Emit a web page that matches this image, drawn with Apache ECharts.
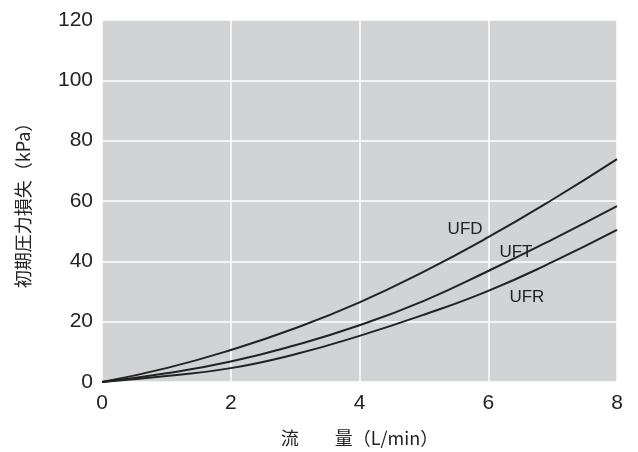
<!DOCTYPE html>
<html>
<head>
<meta charset="utf-8">
<script src="https://cdn.jsdelivr.net/npm/echarts@6/dist/echarts.min.js"></script>
<style>html,body{margin:0;padding:0;background:#fff}#c{width:638px;height:452px}</style>
</head>
<body>
<div id="c"></div>
<script>
const flow = [0, 1, 2, 3, 4, 5, 6, 7, 8];
const ufd = [0, 4.6, 10.6, 17.8, 26.4, 36.6, 48.0, 60.5, 73.9];
const uft = [0, 2.9, 6.8, 12.2, 18.8, 26.9, 36.8, 47.3, 58.3];
const ufr = [0, 2.0, 4.6, 9.2, 15.3, 22.3, 30.2, 39.8, 50.4];
const seriesNames = ['UFD', 'UFT', 'UFR'];
const labelPos = [[5.64, 50.7], [6.43, 43.1], [6.6, 28.2]];

const font = '"Liberation Sans", Arial, sans-serif';
const cjk = '"Noto Sans CJK JP", "Liberation Sans", sans-serif';
const allData = [ufd, uft, ufr];

const chart = echarts.init(document.getElementById('c'));
chart.setOption({
  animation: false,
  grid: {left: 102, right: 21, top: 20, bottom: 70, show: true, backgroundColor: '#d2d3d5', borderWidth: 0},
  xAxis: {
    type: 'value', min: 0, max: 8, interval: 2,
    axisLine: {show: false}, axisTick: {show: false},
    axisLabel: {fontFamily: font, fontSize: 21, color: '#222', margin: 11},
    splitLine: {show: true, lineStyle: {color: '#ffffff', width: 1.5}},
    name: '流　　量（L/min）', nameLocation: 'middle', nameGap: 47,
    nameTextStyle: {fontFamily: cjk, fontSize: 18, color: '#222'}
  },
  yAxis: {
    type: 'value', min: 0, max: 120, interval: 20,
    axisLine: {show: false}, axisTick: {show: false},
    axisLabel: {fontFamily: font, fontSize: 21, color: '#222', margin: 9},
    splitLine: {show: true, lineStyle: {color: '#ffffff', width: 1.5}},
    name: '初期圧力損失（kPa）', nameLocation: 'middle', nameGap: 70,
    nameTextStyle: {fontFamily: cjk, fontSize: 18, color: '#222'}
  },
  series: allData.map((d, i) => ({
    name: seriesNames[i],
    type: 'line',
    smooth: true,
    symbol: 'none',
    data: flow.map((x, j) => [x, d[j]]),
    lineStyle: {color: '#222', width: 2},
    markPoint: {
      symbol: 'circle', symbolSize: 0,
      data: [{coord: labelPos[i], value: seriesNames[i]}],
      label: {show: true, position: 'inside', formatter: seriesNames[i], fontFamily: font, fontSize: 17, color: '#222'}
    }
  }))
});
</script>
</body>
</html>
